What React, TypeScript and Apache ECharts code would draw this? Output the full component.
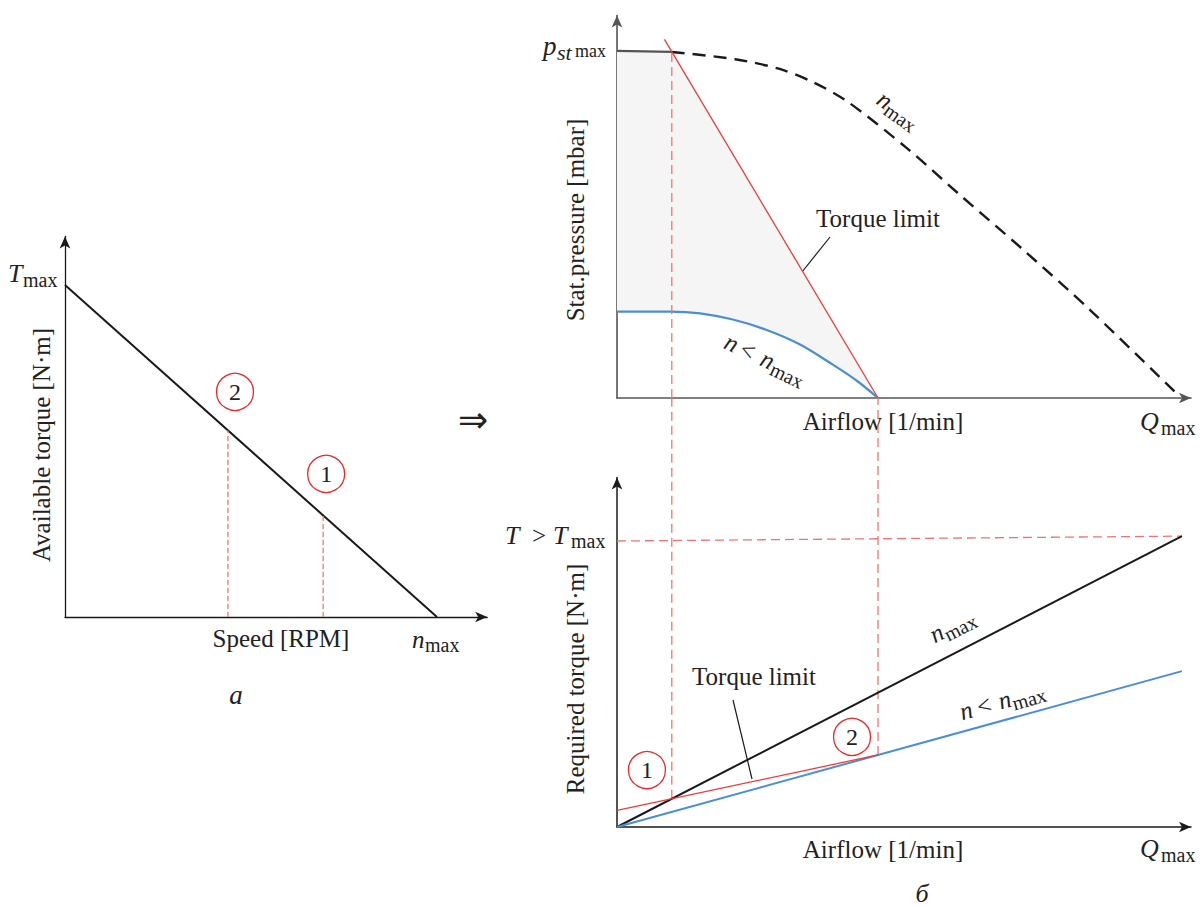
import React, { useEffect, useRef } from "react";
import * as echarts from "echarts";

// ---------- data (normalised units: max values = 100) ----------
// (a) available torque vs speed
const availTorqueLine = [[0, 100], [100, 0]];
const opPoint2Left = [43.8, 56.2];
const opPoint1Left = [69.4, 30.6];
const leftMarkers = [[45.7, 67.8, "2"], [70.2, 43.1, "1"]];

// (б, top) static pressure vs airflow
const pMaxFlat = [[0, 100], [9.7, 99.7]];
const nMaxCurve = [
  [9.7, 99.7], [20.9, 97.6], [28.8, 94.8], [34.7, 91.0], [40.7, 85.5],
  [51.3, 72.0], [60.7, 58.5], [71.9, 42.7], [83.7, 25.4], [99.1, 1.2],
];
const torqueLimitTop = [[8.4, 103.3], [46.2, 0]];
const nLowCurve = [
  [0, 24.9], [9.4, 24.9], [14.7, 24.4], [20.5, 22.6], [26.5, 19.6], [32.4, 15.4],
  [38.2, 9.6], [42.5, 4.9], [46.2, 0],
];
const guideTopLeft = [[9.7, 0], [9.7, 99.7]];

// (б, bottom) required torque vs airflow
const reqNMax = [[0, 0], [100, 101.7]];
const reqNLow = [[0, 0], [100, 54.5]];
const tMaxLine = [[0, 100], [100, 101.7]];
const torqueLimitBottom = [[0, 5.8], [46.2, 25.2]];
const guide1 = [[9.7, 9.86], [9.7, 150]];
const guide2 = [[46.2, 25.2], [46.2, 150]];
const bottomMarkers = [[5.3, 19.9, "1"], [41.6, 31.5, "2"]];

const FAMILY = "Liberation Serif, Times New Roman, serif";
const RED = "#ec3b3b";
const RED_DASH = "#f07373";
const BLUE = "#4a8fd2";
const INK = "#1a1a1a";

function axis(gridIndex: number, max: number, color: string, width: number) {
  return {
    type: "value",
    gridIndex,
    min: 0,
    max,
    axisLine: {
      show: true,
      onZero: false,
      symbol: ["none", "arrow"],
      symbolSize: [8, 12],
      lineStyle: { color, width },
    },
    axisTick: { show: false },
    axisLabel: { show: false },
    splitLine: { show: false },
  };
}

function line(xi: number, data: any, color: string, width: number, extra: any = {}) {
  return {
    type: "line",
    xAxisIndex: xi,
    yAxisIndex: xi,
    data,
    symbol: "none",
    silent: true,
    lineStyle: { color, width, type: extra.dash || "solid" },
    smooth: extra.smooth || false,
    clip: extra.clip === undefined ? true : extra.clip,
    z: extra.z || 3,
  };
}

function markers(xi: number, data: any) {
  return {
    type: "scatter",
    xAxisIndex: xi,
    yAxisIndex: xi,
    data,
    symbol: "circle",
    symbolSize: 37,
    silent: true,
    z: 5,
    itemStyle: { color: "#ffffff", borderColor: "#e52a2a", borderWidth: 1.3, opacity: 1 },
    label: {
      show: true,
      position: "inside",
      formatter: (p: any) => p.value[2],
      fontFamily: FAMILY,
      fontSize: 24,
      color: "#222",
    },
  };
}

function txt(x: number, y: number, text: string, o: any = {}) {
  const fs = o.fs || 25;
  const fam = o.ff || FAMILY;
  return {
    type: "text",
    x,
    y,
    rotation: o.rot || 0,
    silent: true,
    style: {
      text,
      font: `${o.it ? "italic " : ""}${fs}px ${fam}`,
      fill: "#222",
      align: o.align || "left",
      verticalAlign: "middle",
    },
  };
}

function grp(x: number, y: number, rot: number, children: any[]) {
  return { type: "group", x, y, rotation: rot, silent: true, children };
}

export default function App() {
  const ref = useRef<HTMLDivElement>(null);
  useEffect(() => {
    if (!ref.current) return;
    const chart = echarts.init(ref.current, null, { renderer: "svg" });
    const option: any = {
      animation: false,
      backgroundColor: "#ffffff",
      grid: [
        { left: 65, top: 236.5, width: 422.2, height: 380.5, outerBoundsMode: "none" },
        { left: 617, top: 15.5, width: 574, height: 382.5, outerBoundsMode: "none" },
        { left: 617, top: 477.5, width: 574, height: 349.5, outerBoundsMode: "none" },
      ],
      xAxis: [
        axis(0, 113.5, INK, 1.3),
        axis(1, 101.6, "#555", 1.6),
        axis(2, 101.6, INK, 1.5),
      ],
      yAxis: [
        axis(0, 114.6, INK, 1.3),
        axis(1, 110.2, "#555", 1.6),
        axis(2, 122.2, INK, 1.5),
      ],
      series: [
        // ---- (a)
        line(0, availTorqueLine, INK, 2),
        line(0, [[opPoint2Left[0], 0], opPoint2Left], RED_DASH, 1.3, { dash: [5, 3] }),
        line(0, [[opPoint1Left[0], 0], opPoint1Left], RED_DASH, 1.3, { dash: [5, 3] }),
        markers(0, leftMarkers),
        // ---- top right
        {
          type: "custom",
          xAxisIndex: 1,
          yAxisIndex: 1,
          silent: true,
          z: 1,
          data: [[0, 0]],
          renderItem: (_params: any, api: any) => {
            const poly = [
              ...pMaxFlat,
              ...torqueLimitTop.slice(1),
              ...nLowCurve.slice().reverse(),
            ];
            return {
              type: "polygon",
              shape: { points: poly.map((p) => api.coord(p)) },
              style: { fill: "#f5f5f5" },
            };
          },
        },
        line(1, pMaxFlat, "#555", 2.2),
        line(1, nMaxCurve, INK, 2.4, { dash: [13, 8], smooth: 0.3 }),
        line(1, nLowCurve, BLUE, 2.2, { smooth: 0.3 }),
        line(1, torqueLimitTop, RED, 1.3, { clip: false }),
        line(1, guideTopLeft, RED_DASH, 1.3, { dash: [9, 5] }),
        // ---- bottom right
        line(2, tMaxLine, RED_DASH, 1.3, { dash: [9, 5] }),
        line(2, guide1, RED_DASH, 1.3, { dash: [9, 5], clip: false }),
        line(2, guide2, RED_DASH, 1.3, { dash: [9, 5], clip: false }),
        line(2, reqNMax, INK, 2),
        line(2, reqNLow, BLUE, 2),
        line(2, torqueLimitBottom, RED, 1.3, { z: 4 }),
        markers(2, bottomMarkers),
      ],
      graphic: [
        // (a) labels
        txt(8, 273, "T", { it: true, fs: 26 }),
        txt(23, 280, "max", { fs: 20 }),
        txt(41.5, 445, "Available torque [N·m]", { rot: Math.PI / 2, align: "center" }),
        txt(281, 638.5, "Speed [RPM]", { align: "center" }),
        txt(412, 639.5, "n", { it: true }),
        txt(425, 645, "max", { fs: 20 }),
        txt(236, 695, "а", { it: true, fs: 27, align: "center" }),
        txt(473, 419, "⇒", { ff: "DejaVu Sans, sans-serif", fs: 36, align: "center" }),
        // top right labels
        txt(543, 46, "p", { it: true, fs: 27 }),
        txt(557, 52, "st", { it: true, fs: 22 }),
        txt(575, 51, "max", { fs: 18 }),
        txt(575.5, 220, "Stat.pressure [mbar]", { rot: Math.PI / 2, align: "center" }),
        txt(878, 218.5, "Torque limit", { align: "center" }),
        { type: "line", silent: true, shape: { x1: 830, y1: 237, x2: 802, y2: 272 }, style: { stroke: INK, lineWidth: 1.2 } },
        grp(880, 96, -0.62, [txt(0, 0, "n", { it: true }), txt(12, 6, "max", { fs: 20 })]),
        grp(726, 340, -0.44, [
          txt(0, 0, "n", { it: true }),
          txt(17, 0, "<"),
          txt(40, 0, "n", { it: true }),
          txt(53, 6, "max", { fs: 20 }),
        ]),
        txt(883, 421.5, "Airflow [1/min]", { align: "center" }),
        txt(1140, 421, "Q", { it: true, fs: 26 }),
        txt(1161, 428, "max", { fs: 20 }),
        // bottom right labels
        txt(505, 535.5, "T", { it: true, fs: 26 }),
        txt(532, 535.5, ">"),
        txt(553, 535.5, "T", { it: true, fs: 26 }),
        txt(571, 541, "max", { fs: 20 }),
        txt(575.5, 679, "Required torque [N·m]", { rot: Math.PI / 2, align: "center" }),
        grp(931, 636, 0.47, [txt(0, 0, "n", { it: true }), txt(13, 6, "max", { fs: 20 })]),
        grp(960, 712, 0.27, [
          txt(0, 0, "n", { it: true }),
          txt(18, 0, "<"),
          txt(40, 0, "n", { it: true }),
          txt(53, 6, "max", { fs: 20 }),
        ]),
        txt(754, 676.5, "Torque limit", { align: "center" }),
        { type: "line", silent: true, shape: { x1: 733, y1: 700, x2: 752, y2: 779 }, style: { stroke: INK, lineWidth: 1.2 } },
        txt(883, 849.5, "Airflow [1/min]", { align: "center" }),
        txt(1140, 848, "Q", { it: true, fs: 26 }),
        txt(1161, 855, "max", { fs: 20 }),
        txt(922, 893, "б", { it: true, fs: 26, align: "center" }),
      ],
    };
    chart.setOption(option);
    return () => chart.dispose();
  }, []);
  return (
    <div
      ref={ref}
      style={{ position: "fixed", left: 0, top: 0, width: 1203, height: 909, background: "#fff" }}
    />
  );
}
